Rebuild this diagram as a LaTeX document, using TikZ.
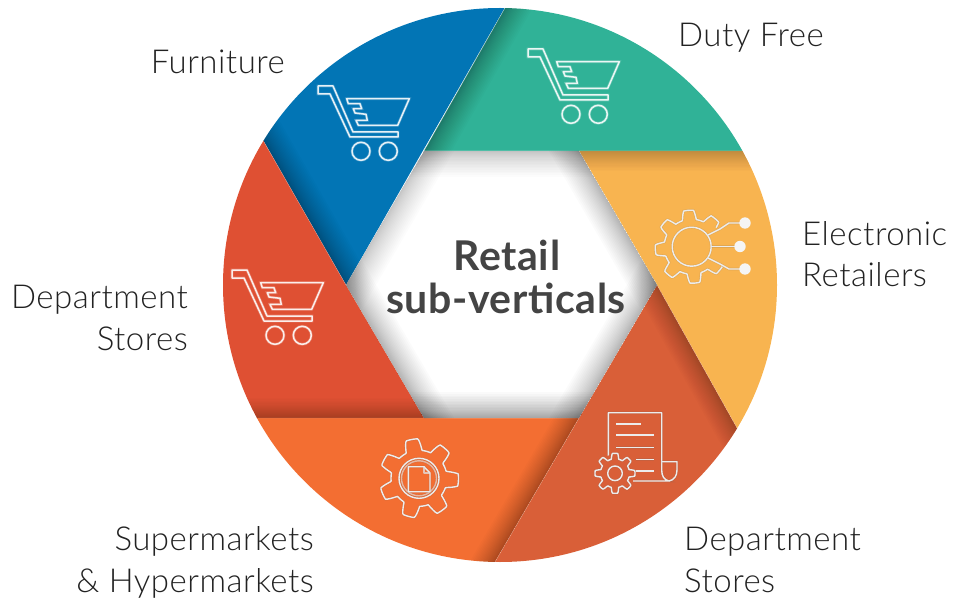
\documentclass[tikz,border=0pt]{standalone}
\usepackage{fontspec}
\setmainfont{Lato Light}[LetterSpace=1.5]
\newfontfamily\boldlbl{Lato}[BoldFont={Lato Bold},LetterSpace=1.5]
\usetikzlibrary{calc}
\definecolor{cblue}{HTML}{0275B5}
\definecolor{cgreen}{HTML}{30B297}
\definecolor{cyellow}{HTML}{F8B450}
\definecolor{cdark}{HTML}{D95F38}
\definecolor{corange}{HTML}{F36E32}
\definecolor{cred}{HTML}{DF5033}
\definecolor{ctext}{HTML}{222222}
\definecolor{ctitle}{HTML}{444444}
\tikzset{
  label text/.style={font=\fontsize{33}{33}\selectfont,text=ctext,inner sep=0pt},
  title text/.style={font=\boldlbl\bfseries\fontsize{41}{41}\selectfont,text=ctitle,inner sep=0pt},
  icon line/.style={draw=white,line width=1.5pt,line join=round,opacity=.88,
    preaction={draw=white,line width=2.8pt,opacity=.22}},
  soft line/.style={draw=white!85!gray,line width=1.4pt,line join=round,
    preaction={draw=black!60,line width=2.6pt,opacity=.16}},
  seam/.style={draw=white,line width=.4pt,opacity=.35}
}
% shadow along edge A->B, on its left side as seen on the page
\newcommand{\edgeshade}[4]{%
  \coordinate (ea) at ($(#1)!-0.4!(#2)$);
  \coordinate (eb) at ($(#2)!-0.4!(#1)$);
  \foreach \i in {1,...,20}{%
    \pgfmathsetmacro\dd{#3*(\i/20)^1.4}
    \fill[black,opacity=#4] (ea) -- (eb) -- ($(eb)!\dd pt!-90:(ea)$) -- ($(ea)!\dd pt!90:(eb)$) -- cycle;
  }}
\newcommand{\carticon}[1]{%
  \begin{scope}[shift={(#1)}]
    \draw[icon line] (0,0) -- (15,0) -- (35,46) -- (80,46) -- (80,51) -- (32,51) -- (12,8) -- (0,8) -- cycle;
    \draw[icon line] (28.7,12.7) -- (91.3,12.7) -- (79.7,39.3) -- (40.3,39.3) -- (38,34.3) -- (49.3,34.3)
      -- (48,28.3) -- (37,27) -- (35.3,22.7) -- (43.7,22.7) -- (42,17.7) -- (30.3,17.7) -- cycle;
    \draw[icon line] (43,65.3) circle (9);
    \draw[icon line] (70.3,65.3) circle (9);
  \end{scope}}
% gear outline: cx, cy, outer radius, inner radius, teeth, phase, from, to
\newcommand{\gearat}[8]{%
  \draw[soft line] plot[domain=#7:#8,samples=220,variable=\t]
    ({#1+(#4+(#3-#4)*min(1,max(0,0.5+1.1*cos(#5*(\t-(#6))))))*cos(\t)},
     {#2+(#4+(#3-#4)*min(1,max(0,0.5+1.1*cos(#5*(\t-(#6))))))*sin(\t)});}
\begin{document}
\begin{tikzpicture}[x=1pt,y=-1pt]
\useasboundingbox (0,0) rectangle (954,599);
% hexagon and rim points
\coordinate (h1) at (424,151);
\coordinate (h2) at (579,151);
\coordinate (h3) at (657,285);
\coordinate (h4) at (579,418);
\coordinate (h5) at (424,418);
\coordinate (h6) at (346,285);
\coordinate (r1) at (505,8);
\coordinate (r2) at (743,151);
\coordinate (r3) at (737,428);
\coordinate (r4) at (495,562);
\coordinate (r5) at (258,418);
\coordinate (r6) at (264,142);
\begin{scope}
  \clip (500,285) circle (277);
  \begin{scope}\clip (346,285) -- (539,-52) -- (200,-60) -- (200,30) -- cycle;
    \fill[cblue] (0,-100) rectangle (954,700);
    \edgeshade{r6}{h6}{24}{.016}
  \end{scope}
  \begin{scope}\clip (424,151) -- (539,-52) -- (900,-60) -- (900,151) -- cycle;
    \fill[cgreen] (0,-100) rectangle (954,700);
    \edgeshade{r1}{h1}{24}{.014}
  \end{scope}
  \begin{scope}\clip (579,151) -- (900,151) -- (900,541) -- (800,541) -- (657,285) -- cycle;
    \fill[cyellow] (0,-100) rectangle (954,700);
    \edgeshade{r2}{h2}{20}{.012}
  \end{scope}
  \begin{scope}\clip (657,285) -- (800,541) -- (800,700) -- (430,673) -- (579,418) -- cycle;
    \fill[cdark] (0,-100) rectangle (954,700);
    \edgeshade{r3}{h3}{22}{.013}
  \end{scope}
  \begin{scope}\clip (579,418) -- (430,673) -- (100,673) -- (100,418) -- cycle;
    \fill[corange] (0,-100) rectangle (954,700);
    \edgeshade{r4}{h4}{22}{.014}
  \end{scope}
  \begin{scope}\clip (424,418) -- (100,418) -- (100,30) -- (200,30) -- (346,285) -- cycle;
    \fill[cred] (0,-100) rectangle (954,700);
    \edgeshade{r5}{h5}{20}{.012}
  \end{scope}
  \draw[seam] (r1) -- (h1) (r2) -- (h1) (r3) -- (h3) (r4) -- (h4) (r5) -- (h4) (r6) -- (h6) (r2) -- (h2) -- (h3);
\end{scope}
% central hexagon
\begin{scope}
  \clip (h1) -- (h2) -- (h3) -- (h4) -- (h5) -- (h6) -- cycle;
  \fill[white] (300,100) rectangle (700,450);
  \edgeshade{h2}{h1}{26}{.012}
  \edgeshade{h3}{h2}{26}{.017}
  \edgeshade{h4}{h3}{26}{.017}
  \edgeshade{h5}{h4}{26}{.02}
  \edgeshade{h6}{h5}{26}{.016}
  \edgeshade{h1}{h6}{26}{.013}
\end{scope}
% cart icons
\carticon{528,49}
\carticon{318,86}
\carticon{232,270}
% electronics gear
\gearat{691.7}{246.7}{36.5}{27.5}{8}{-5}{33}{322}
\draw[soft line] (691.7,246.7) circle (19.5);
\draw[soft line] (711,246.5) -- (740,246.5);
\draw[soft line] (708,235) -- (720,229) -- (729,223) -- (745,223);
\draw[soft line] (708,258) -- (720,264) -- (729,269) -- (745,269);
\begin{scope}
  \clip (640,200) rectangle (752,290);
  \fill[white!92!gray] (740,246.5) circle (5.7);
  \fill[white!92!gray] (745,223) circle (5.7);
  \fill[white!92!gray] (745,269) circle (5.7);
\end{scope}
% document icon
\draw[soft line] (608.3,462) -- (608.3,412.7) -- (661.7,412.7) -- (661.7,470)
  .. controls (661.7,476) and (664,480) .. (669,481) -- (633,481);
\draw[soft line] (661.7,461.7) -- (677,461.7) -- (677,470) .. controls (677,476) and (674,480) .. (669,481);
\draw[soft line] (616,424) -- (640.7,424);
\draw[soft line] (616,435) -- (654,435);
\draw[soft line] (616,447.3) -- (654,447.3);
\draw[soft line] (636,459.3) -- (654,459.3);
\draw[soft line] (636,471) -- (654,471);
\fill[cdark] (615,473.3) circle (19);
\gearat{615}{473.3}{20}{14.5}{8}{0}{0}{360}
\draw[soft line] (615,473.3) circle (7.3);
% process gear
\gearat{419}{478.3}{39.5}{28}{7}{2.5}{0}{360}
\draw[soft line] (419,478.3) circle (20);
\draw[soft line,opacity=.6] (419,478.3) circle (17.5);
\draw[soft line] (408.3,466.7) -- (424,466.7) -- (430,473) -- (430,491.7) -- (408.3,491.7) -- cycle;
\draw[soft line,opacity=.7] (424,466.7) -- (424,473) -- (430,473);
% labels
\node[label text,anchor=base east] (furniture) at (285,74) {Furniture};
\node[label text,anchor=base west] (dutyfree) at (678,47) {Duty Free};
\node[label text,anchor=base west] (elec1) at (802,245) {Electronic};
\node[label text,anchor=base west] (elec2) at (802,287) {Retailers};
\node[label text,anchor=base east] (dept1) at (188,308) {Department};
\node[label text,anchor=base east] (dept2) at (188,350) {Stores};
\node[label text,anchor=base west] (dept3) at (684,550) {Department};
\node[label text,anchor=base west] (dept4) at (684,592) {Stores};
\node[label text,anchor=base east] (super1) at (314,550) {Supermarkets};
\node[label text,anchor=base east] (super2) at (314,592) {\& Hypermarkets};
\node[title text,anchor=base] (title1) at (507,270) {Retail};
\node[title text,anchor=base] (title2) at (506,313) {sub-verticals};
\end{tikzpicture}
\end{document}
